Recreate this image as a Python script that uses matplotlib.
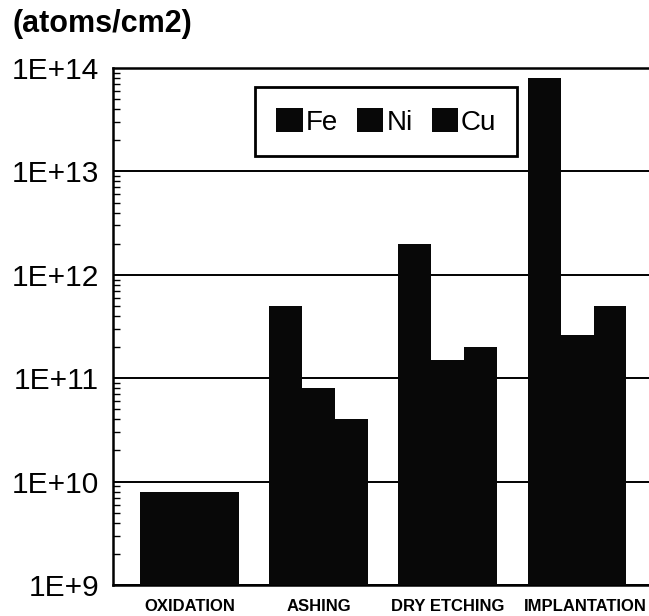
import numpy as np
import matplotlib
matplotlib.use("Agg")
import matplotlib.pyplot as plt
from matplotlib.ticker import FuncFormatter, LogLocator, FixedLocator
from matplotlib.transforms import ScaledTranslation

plt.rcParams['font.family'] = ['Liberation Sans', 'DejaVu Sans']

# Metal contamination per process step (atoms/cm2)
categories = ["OXIDATION", "ASHING", "DRY ETCHING", "IMPLANTATION"]
metals = ["Fe", "Ni", "Cu"]
fe = [8e9, 5e11, 2e12, 8e13]
ni = [8e9, 8e10, 1.5e11, 2.6e11]
cu = [8e9, 4e10, 2e11, 5e11]
series = [fe, ni, cu]

W, H = 649, 616
fig = plt.figure(figsize=(W / 100, H / 100), dpi=100)
ax = fig.add_axes([113 / W, (H - 585) / H, (W - 113) / W, (585 - 68) / H])

x = np.arange(len(categories))
bw = 0.255
for i, (name, vals) in enumerate(zip(metals, series)):
    ax.bar(x + (i - 1) * bw, vals, width=bw, color="#080808", edgecolor="none",
           label=name, zorder=3)

ax.set_yscale("log")
ax.set_ylim(1e9, 1e14)
ax.set_xlim(-0.592, 3.557)

ax.yaxis.set_major_locator(FixedLocator([10.0 ** k for k in range(9, 15)]))
ax.yaxis.set_minor_locator(LogLocator(base=10, subs=np.arange(2, 10)))
ax.yaxis.set_major_formatter(FuncFormatter(lambda v, p: "1E+%d" % round(np.log10(v))))
ax.yaxis.set_minor_formatter(FuncFormatter(lambda v, p: ""))
ax.tick_params(axis="y", which="major", direction="in", length=0, pad=10,
               labelsize=21.5)
ax.tick_params(axis="y", which="minor", direction="in", length=5, width=1.0)

ax.set_xticks(x)
ax.set_xticklabels(categories, fontweight="bold", fontsize=12)
ax.tick_params(axis="x", length=0, pad=10)
# keep the last category name inside the figure
last = ax.get_xticklabels()[-1]
last.set_transform(last.get_transform() + ScaledTranslation(8 / 100, 0, fig.dpi_scale_trans))

ax.grid(axis="y", which="major", color="black", linewidth=1.4, zorder=1)
ax.set_axisbelow(True)
for side in ("left", "bottom", "top"):
    ax.spines[side].set_linewidth(1.8)
ax.spines["right"].set_visible(False)

leg = ax.legend(loc="center", bbox_to_anchor=(0.510, 0.896), ncol=3,
                fontsize=20, frameon=True, fancybox=False, handlelength=0.95,
                handleheight=0.95, handletextpad=0.1, columnspacing=0.7,
                borderpad=0.75, borderaxespad=0)
leg.get_frame().set_edgecolor("black")
leg.get_frame().set_linewidth(2.0)
leg.get_frame().set_facecolor("white")
leg.get_frame().set_alpha(1)
leg.set_zorder(5)

fig.text(12 / W, 1 - 9 / H, "(atoms/cm2)", fontsize=22, fontweight="bold",
         ha="left", va="top")

fig.savefig("out.png", dpi=100)
